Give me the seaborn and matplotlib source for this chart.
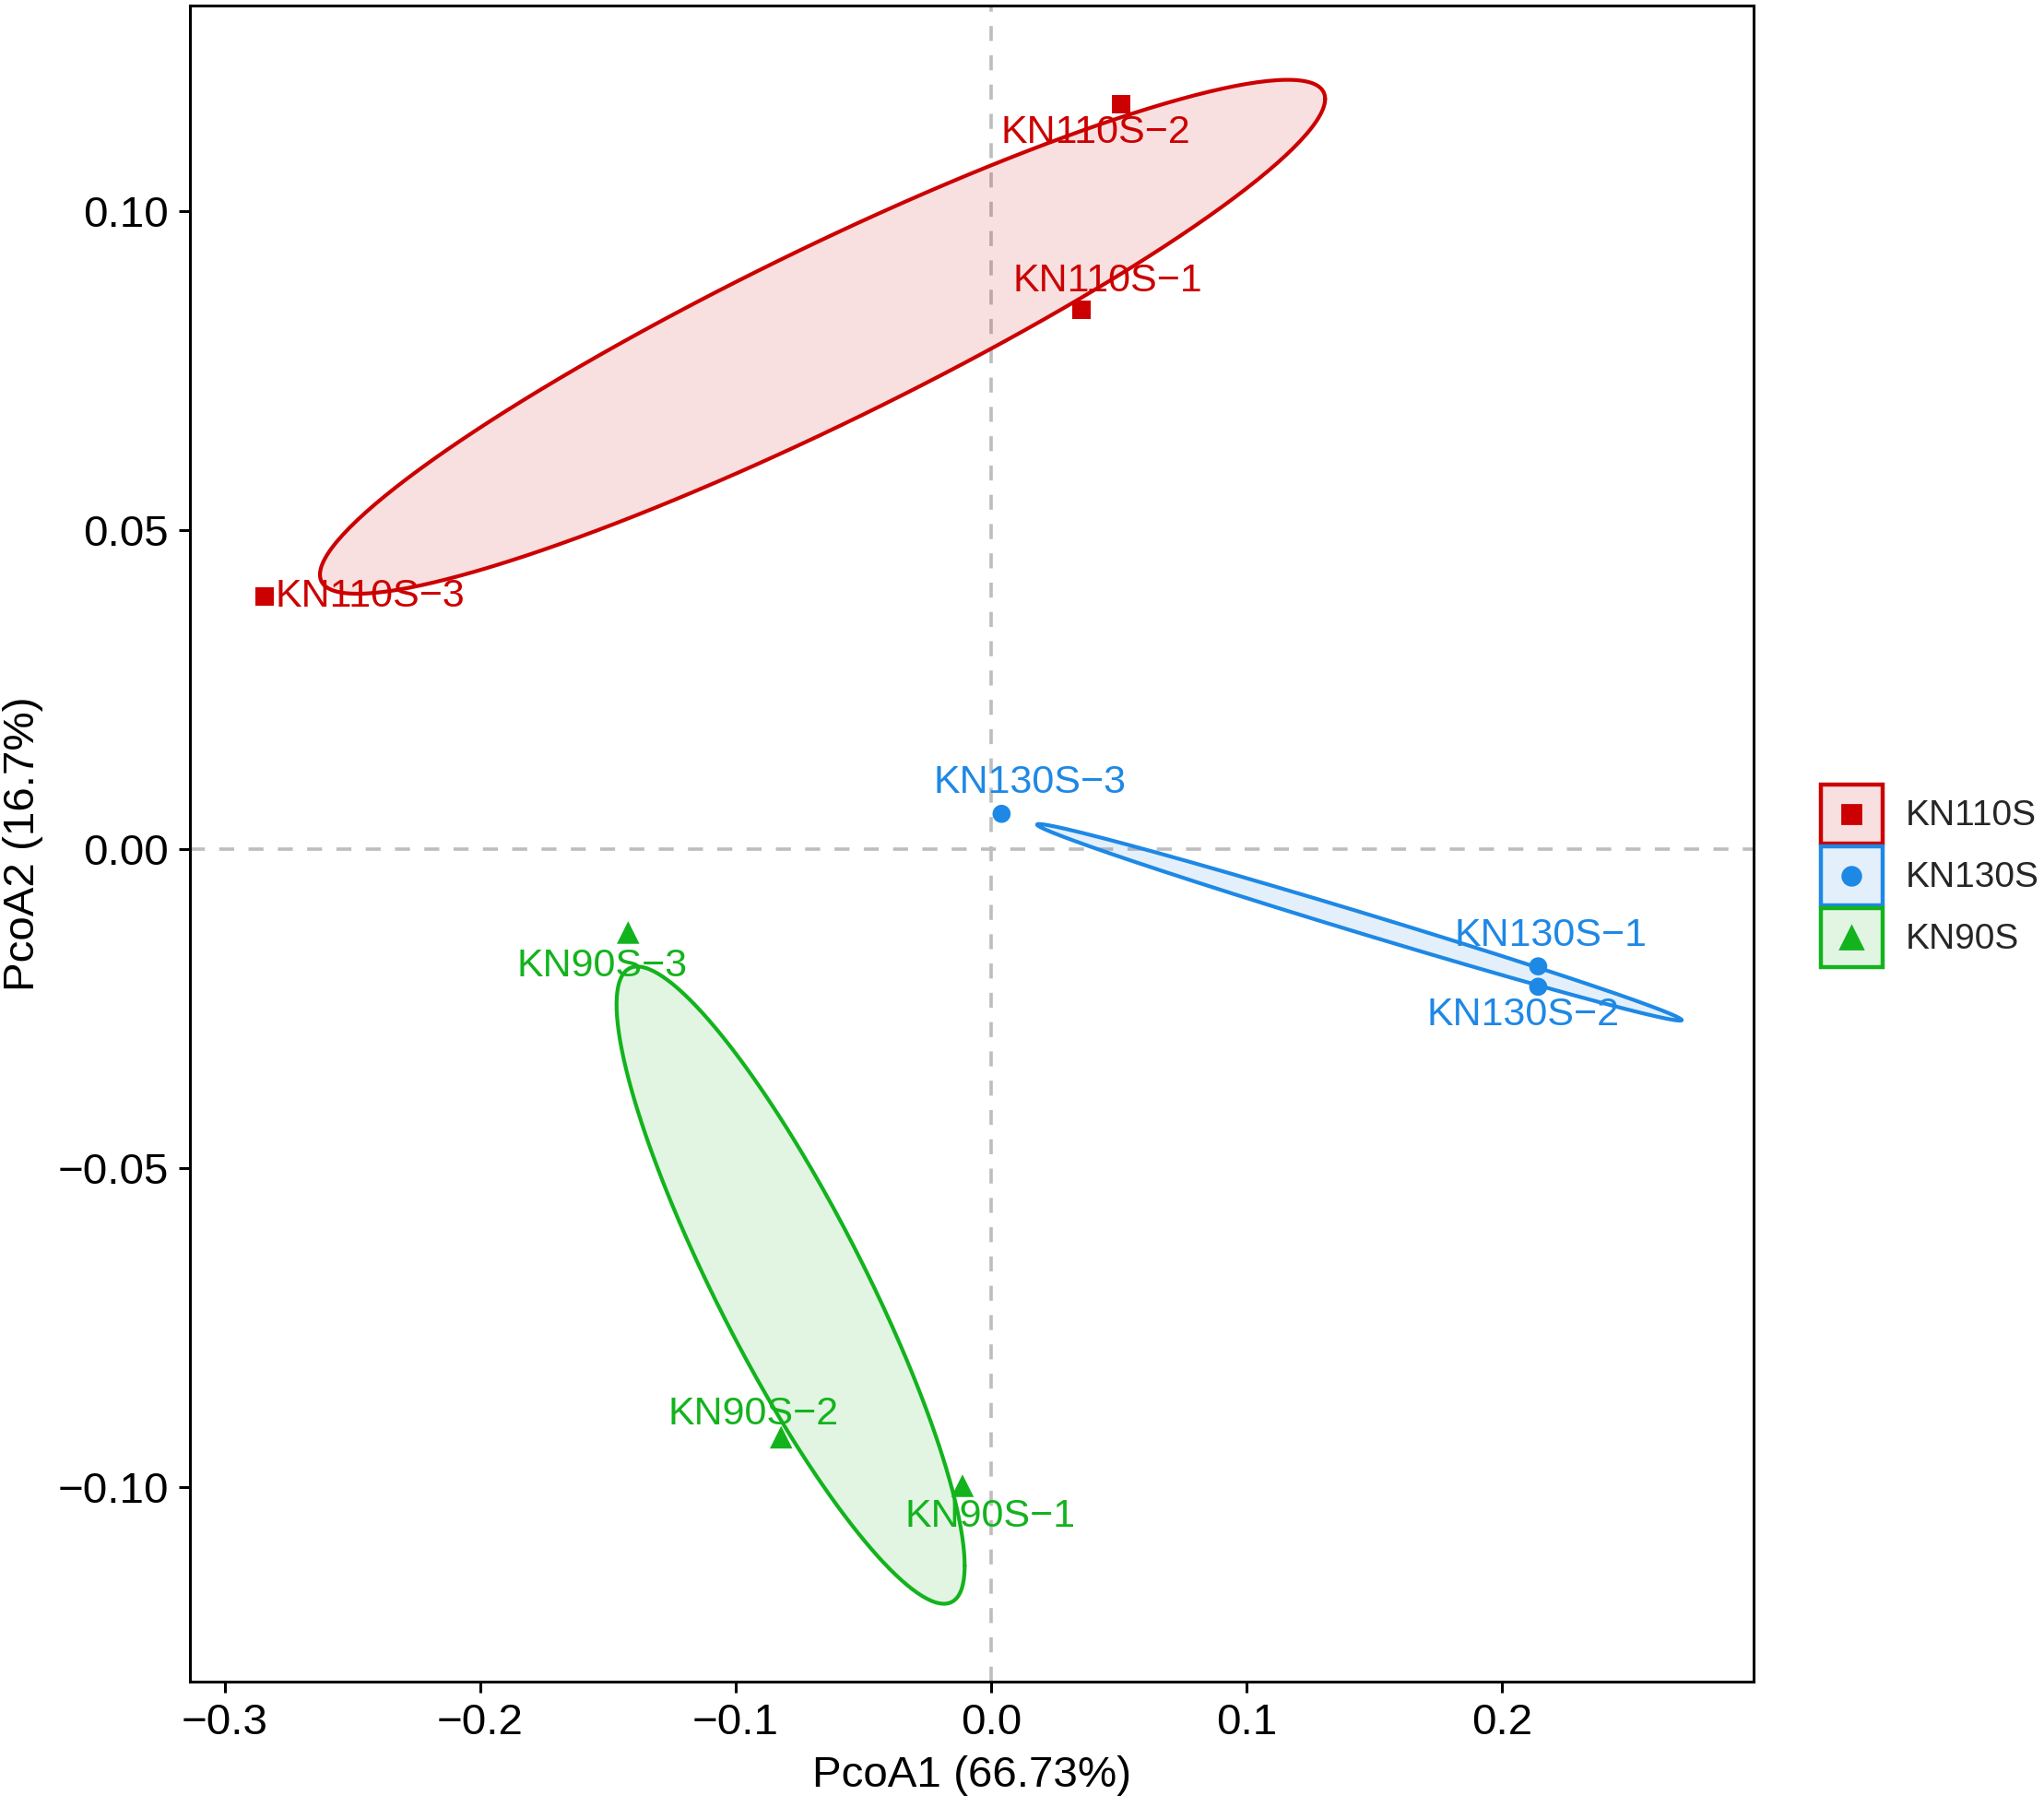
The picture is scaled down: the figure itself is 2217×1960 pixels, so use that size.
import numpy as np
import pandas as pd
import matplotlib
matplotlib.use("Agg")
import matplotlib.pyplot as plt
import seaborn as sns
from matplotlib.colors import to_rgba
from matplotlib.lines import Line2D
from matplotlib.patches import Rectangle
from matplotlib.legend_handler import HandlerBase

# PCoA sample scores
samples = ["KN110S-1", "KN110S-2", "KN110S-3",
           "KN130S-1", "KN130S-2", "KN130S-3",
           "KN90S-1", "KN90S-2", "KN90S-3"]
groups = ["KN110S"] * 3 + ["KN130S"] * 3 + ["KN90S"] * 3
pcoa1 = [0.0355, 0.0508, -0.2843, 0.2142, 0.2142, 0.0041, -0.0112, -0.0822, -0.1421]
pcoa2 = [0.0845, 0.1167, 0.0396, -0.0184, -0.0216, 0.0055, -0.0998, -0.0922, -0.0131]

group_names = ["KN110S", "KN130S", "KN90S"]
group_colors = ["#CC0000", "#1E88E5", "#13B31D"]
group_markers = ["s", "o", "^"]
group_sizes = [52, 50, 78]

x_ticks = [-0.3, -0.2, -0.1, 0.0, 0.1, 0.2]
y_ticks = [-0.10, -0.05, 0.00, 0.05, 0.10]

# label nudges (points) so text sits beside its point like ggrepel did
label_dx = [10, -10, 4, 5, -6, 11, 11, -11, -10]
label_dy = [11, -11, 0, 12, -11, 12, -12, 9, -13]

ELLIPSE_SCALE = 1.04

df = pd.DataFrame({"sample": samples, "group": groups, "PcoA1": pcoa1, "PcoA2": pcoa2})
palette = dict(zip(group_names, group_colors))
markers = dict(zip(group_names, group_markers))
sizes = dict(zip(group_names, group_sizes))

sns.set_style("white")
plt.rcParams["font.family"] = ["Liberation Sans", "DejaVu Sans"]

fig = plt.figure(figsize=(11.085, 9.8), dpi=200)
ax = fig.add_axes([0.0929, 0.0694, 0.7651, 0.9276])

ax.axhline(0, color="#BDBDBD", lw=1.3, dashes=(4.5, 4.3), zorder=1)
ax.axvline(0, color="#BDBDBD", lw=1.3, dashes=(4.5, 4.3), zorder=1)

# covariance ellipse per group
t = np.linspace(0, 2 * np.pi, 300)
circle = np.vstack([np.cos(t), np.sin(t)])
for g in group_names:
    sub = df[df["group"] == g]
    pts = sub[["PcoA1", "PcoA2"]].to_numpy()
    center = pts.mean(axis=0)
    chol = np.linalg.cholesky(np.cov(pts.T))
    ell = center[:, None] + ELLIPSE_SCALE * chol @ circle
    col = palette[g]
    ax.fill(ell[0], ell[1], color=to_rgba(col, 0.12), lw=0, zorder=2)
    ax.plot(ell[0], ell[1], color=col, lw=1.5, zorder=2)

sns.scatterplot(data=df, x="PcoA1", y="PcoA2", hue="group", style="group", size="group",
                hue_order=group_names, style_order=group_names, size_order=group_names,
                palette=palette, markers=markers, sizes=sizes, linewidth=0,
                legend=False, ax=ax, zorder=3)

for i, row in df.iterrows():
    ha = "left" if label_dy[i] == 0 else "center"
    ax.annotate(row["sample"].replace("-", "\u2212"), (row["PcoA1"], row["PcoA2"]),
                xytext=(label_dx[i], label_dy[i]), textcoords="offset points",
                ha=ha, va="center", fontsize=15.5, color=palette[row["group"]], zorder=4)

ax.set_xlim(-0.3137, 0.2986)
ax.set_ylim(-0.1305, 0.1322)
ax.set_xticks(x_ticks)
ax.set_xticklabels(["\u22120.3", "\u22120.2", "\u22120.1", "0.0", "0.1", "0.2"])
ax.set_yticks(y_ticks)
ax.set_yticklabels(["\u22120.10", "\u22120.05", "0.00", "0.05", "0.10"])
ax.tick_params(axis="both", labelsize=17.1, length=4.3, width=1.1, color="black",
               labelcolor="black", pad=4, direction="out", bottom=True, left=True)
for s in ax.spines.values():
    s.set_color("black")
    s.set_linewidth(1.1)

ax.set_xlabel("PcoA1 (66.73%)", fontsize=17.1, color="black")
ax.set_ylabel("PcoA2 (16.7%)", fontsize=17.1, color="black")
ax.xaxis.set_label_coords(0.5, -0.044)
ax.yaxis.set_label_coords(-0.094, 0.5)


class BoxKeyHandler(HandlerBase):
    def create_artists(self, legend, orig_handle, xdescent, ydescent, width, height, fontsize, trans):
        col = orig_handle.get_color()
        box = Rectangle((-xdescent, -ydescent), width, height, facecolor=to_rgba(col, 0.12),
                        edgecolor=col, lw=1.6, transform=trans)
        dot = Line2D([width / 2 - xdescent], [height / 2 - ydescent], marker=orig_handle.get_marker(),
                     markersize=orig_handle.get_markersize(), color=col, ls="none", transform=trans)
        return [box, dot]


handles = [Line2D([], [], color=c, marker=m, markersize=np.sqrt(s), ls="none")
           for c, m, s in zip(group_colors, group_markers, group_sizes)]
# legend keys are sized in font units, so scale them against the 14pt text
fs_leg = 14
fig.legend(handles, group_names, handler_map={Line2D: BoxKeyHandler()},
           loc="center left", bbox_to_anchor=(0.8908, 0.5153), frameon=False,
           fontsize=fs_leg, handlelength=1.52 * 15.8 / fs_leg, handleheight=1.9 * 15.8 / fs_leg,
           labelspacing=0.07 * 15.8 / fs_leg, handletextpad=0.57 * 15.8 / fs_leg,
           borderpad=0, borderaxespad=0)

fig.savefig("out.png", dpi=200, facecolor="white")
